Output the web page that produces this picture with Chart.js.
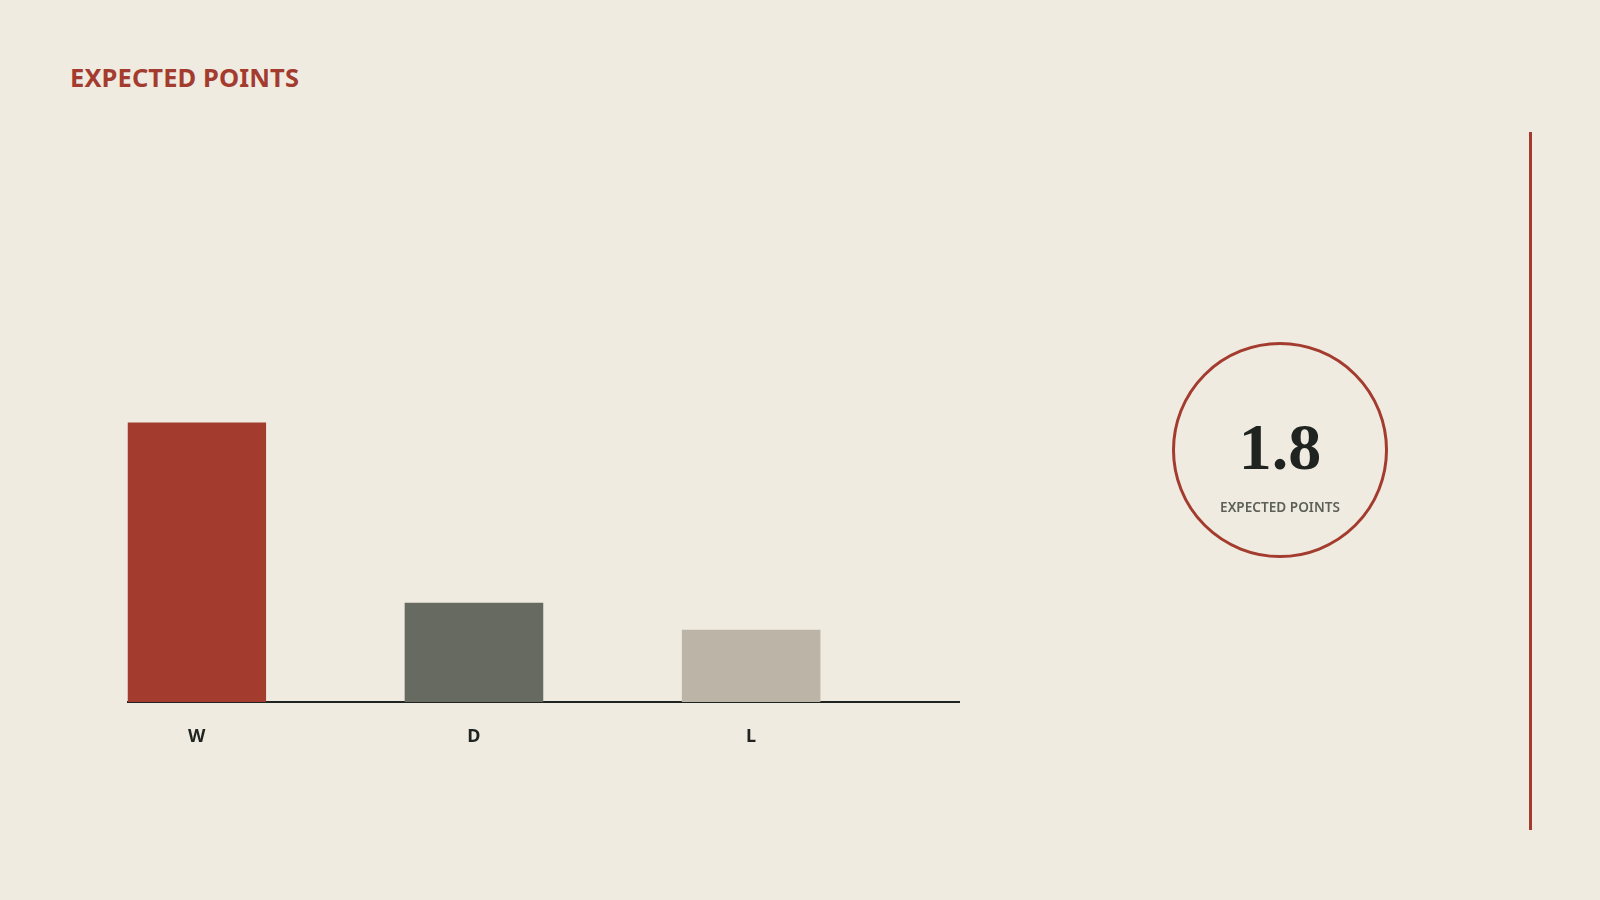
<!DOCTYPE html>
<html>
<head>
<meta charset="utf-8">
<script src="https://cdn.jsdelivr.net/npm/chart.js@4.4.1/dist/chart.umd.min.js"></script>
<style>
  html, body { margin: 0; padding: 0; background: #f0ebe1; }
  #page { position: relative; width: 1600px; height: 900px; overflow: hidden; background: #f0ebe1; }
  #chartBox { position: absolute; left: 0; top: 0; width: 1600px; height: 900px; }
  .title { position: absolute; left: 70px; top: 60px; font-family: "Noto Sans", sans-serif; font-weight: 700;
           font-size: 25.5px; color: #a33c2f; letter-spacing: 0.1px; }
  .ring { position: absolute; left: 1172px; top: 342px; width: 216px; height: 216px; border: 3px solid #a33c2f;
          border-radius: 50%; box-sizing: border-box; }
  .big { position: absolute; left: 1180px; width: 200px; top: 414px; text-align: center;
         font-family: "Liberation Serif", serif; font-weight: 700; font-size: 66px; line-height: 66px; color: #1f2420; }
  .small { position: absolute; left: 1180px; width: 200px; top: 497px; text-align: center;
           font-family: "Noto Sans", sans-serif; font-weight: 600; font-size: 13.6px; color: #5d6058; }
  .rule { position: absolute; left: 1529px; top: 132px; width: 3px; height: 698px; background: #a33c2f; }
</style>
</head>
<body>
<div id="page">
  <div class="title">EXPECTED POINTS</div>
  <div id="chartBox"><canvas id="outcomeChart"></canvas></div>
  <div class="ring"></div>
  <div class="big" id="xpValue"></div>
  <div class="small">EXPECTED POINTS</div>
  <div class="rule"></div>
</div>
<script>
// match outcome probabilities
const outcomes = ['W', 'D', 'L'];
const probabilities = [0.62, 0.22, 0.16];
const outcomeColors = ['#a33c2f', '#676a60', '#bbb4a7'];
const expectedPoints = 1.8;

// bars sit on the left half of each slot
const slotShift = 0.25;

document.getElementById('xpValue').textContent = expectedPoints.toFixed(1);

const ctx = document.getElementById('outcomeChart').getContext('2d');

new Chart(ctx, {
  type: 'bar',
  data: {
    datasets: [{
      data: probabilities.map((p, i) => ({ x: i + slotShift, y: p })),
      backgroundColor: outcomeColors,
      borderWidth: 0,
      barPercentage: 0.5,
      categoryPercentage: 1
    }]
  },
  options: {
    responsive: true,
    maintainAspectRatio: false,
    animation: false,
    layout: { padding: { left: 127.5, right: 641, top: 251, bottom: 138 } },
    plugins: {
      legend: { display: false },
      tooltip: { enabled: false }
    },
    scales: {
      x: {
        type: 'linear',
        min: 0,
        max: outcomes.length,
        offset: false,
        grid: { display: false, drawTicks: false },
        border: { display: true, color: '#1f2420', width: 2 },
        afterBuildTicks: (scale) => {
          scale.ticks = outcomes.map((o, i) => ({ value: i + slotShift }));
        },
        afterFit: (scale) => { scale.height = 60; },
        ticks: {
          autoSkip: false,
          maxRotation: 0,
          padding: 24,
          color: '#1f2420',
          font: { family: 'Noto Sans', size: 18, weight: '700' },
          callback: (value) => outcomes[Math.round(value - slotShift)]
        }
      },
      y: {
        display: false,
        min: 0,
        max: 1
      }
    }
  }
});
</script>
</body>
</html>
